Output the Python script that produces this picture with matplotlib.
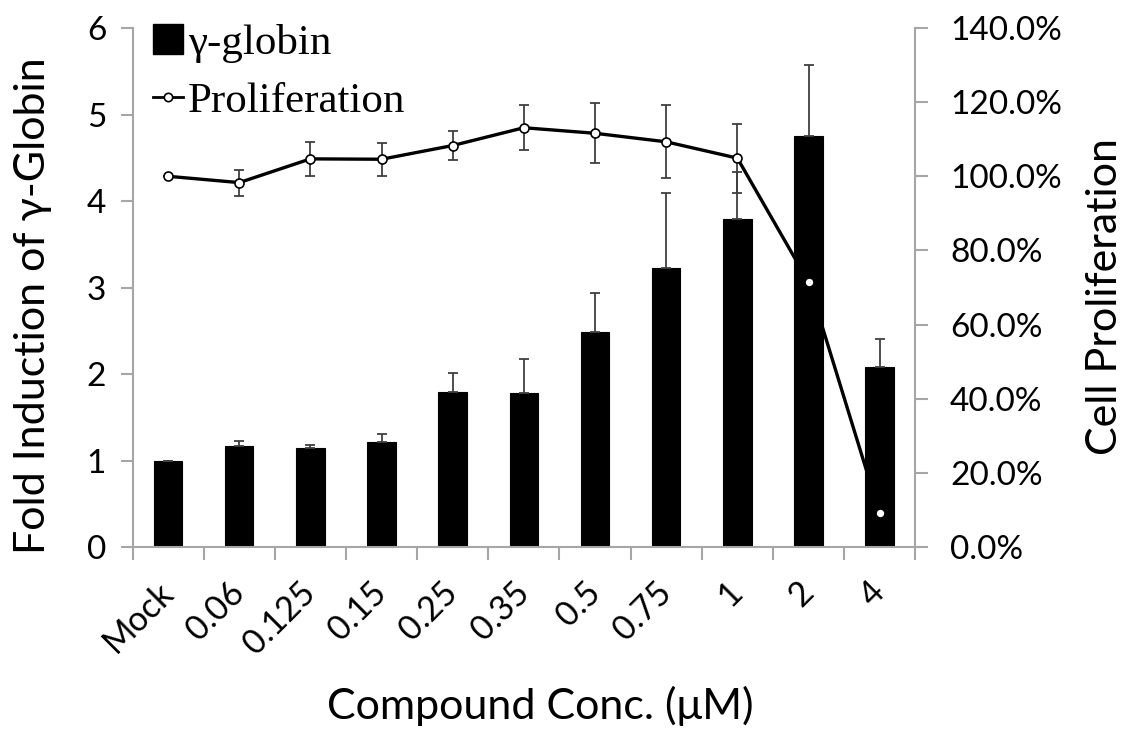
import matplotlib
matplotlib.use("Agg")
import matplotlib.pyplot as plt
from matplotlib.ticker import FixedLocator, FuncFormatter
from matplotlib.lines import Line2D
from matplotlib.patches import Patch
import numpy as np

# Concentrations tested (µM)
categories = ["Mock", "0.06", "0.125", "0.15", "0.25", "0.35", "0.5", "0.75", "1", "2", "4"]

# Fold induction of gamma-globin (left axis) with upper SD
globin = [1.00, 1.17, 1.14, 1.21, 1.79, 1.78, 2.49, 3.23, 3.79, 4.75, 2.08]
globin_err = [0.00, 0.05, 0.04, 0.10, 0.22, 0.39, 0.45, 0.86, 0.54, 0.82, 0.32]

# Cell proliferation in percent of mock (right axis) with SD
prolif = [100.0, 98.3, 104.7, 104.6, 108.3, 113.1, 111.6, 109.3, 104.9, 71.5, 9.1]
prolif_err = [0.0, 3.5, 4.6, 4.4, 4.0, 6.0, 8.1, 9.8, 9.3, 0.0, 0.0]

left_ticks = [0, 1, 2, 3, 4, 5, 6]
right_ticks = [0, 20, 40, 60, 80, 100, 120, 140]

SANS = "Lato"
SERIF = "Liberation Serif"
AXIS_GREY = "#a6a6a6"
ERR_GREY = "#404040"

fig = plt.figure(figsize=(11.23, 7.37), dpi=100)
ax = fig.add_axes([0.118, 0.2578, 0.697, 0.7042])
ax2 = ax.twinx()

# bars sit above the proliferation line
ax.set_zorder(ax2.get_zorder() + 1)
ax.patch.set_visible(False)

x = np.arange(len(categories))

# proliferation line and its error bars (behind the bars)
ax2.errorbar(x, prolif, yerr=prolif_err, color="black", lw=2.4,
             ecolor=ERR_GREY, elinewidth=1.3, capsize=3.5, capthick=1.3, zorder=1)

# gamma-globin bars with upper error bars
ax.bar(x, globin, width=0.4, color="black", edgecolor="black", linewidth=0.8, zorder=2)
ax.errorbar(x, globin, yerr=[np.zeros(len(globin)), globin_err], fmt="none",
            ecolor=ERR_GREY, elinewidth=1.3, capsize=3.5, capthick=1.3, zorder=3)

# proliferation markers drawn on top of the bars
ax.plot(x, prolif, linestyle="none", marker="o", markersize=6.5,
        markerfacecolor="white", markeredgecolor="black", markeredgewidth=1.2,
        transform=ax2.transData, zorder=5)

ax.set_xlim(-0.5, len(categories) - 0.5)
ax.set_ylim(0, 6)
ax2.set_ylim(0, 140)

# spines
for s in ["top", "right"]:
    ax.spines[s].set_visible(False)
for s in ["top", "left", "bottom"]:
    ax2.spines[s].set_visible(False)
for sp in [ax.spines["left"], ax.spines["bottom"], ax2.spines["right"]]:
    sp.set_color(AXIS_GREY)
    sp.set_linewidth(1.5)

# x ticks: marks between categories, labels at the centres
ax.xaxis.set_major_locator(FixedLocator(x))
ax.set_xticklabels(categories, rotation=45, ha="right", va="center",
                   rotation_mode="anchor", fontsize=24.5, family=SANS)
ax.xaxis.set_minor_locator(FixedLocator(np.arange(-0.5, len(categories), 1.0)))
ax.tick_params(axis="x", which="major", length=0, pad=29)
ax.tick_params(axis="x", which="minor", length=9, width=1.5, color=AXIS_GREY, direction="out")

ax.set_yticks(left_ticks)
ax.tick_params(axis="y", length=9, width=1.5, color=AXIS_GREY, labelsize=24, pad=10)
for lab in ax.get_yticklabels():
    lab.set_family(SANS)

ax2.set_yticks(right_ticks)
ax2.yaxis.set_major_formatter(FuncFormatter(lambda v, p: f"{v:.1f}%"))
ax2.tick_params(axis="y", length=9, width=1.5, color=AXIS_GREY, labelsize=24, pad=16)
for lab in ax2.get_yticklabels():
    lab.set_family(SANS)

ax.set_xlabel("Compound Conc. (\u03bcM)", fontsize=31, family=SANS)
ax.xaxis.set_label_coords(0.521, -0.267)
ax.set_ylabel("Fold Induction of \u03b3-Globin", fontsize=31, family=SANS, labelpad=25)
ax.yaxis.label.set_y(0.466)
ax2.set_ylabel("Cell Proliferation", fontsize=31, family=SANS, labelpad=17)
ax2.yaxis.label.set_y(0.482)

handles = [
    Patch(facecolor="black", edgecolor="black"),
    Line2D([], [], color="black", lw=2.0, marker="o", markersize=6,
           markerfacecolor="white", markeredgecolor="black", markeredgewidth=1.2),
]
leg = ax.legend(handles, ["\u03b3-globin", "Proliferation"], loc="upper left",
                bbox_to_anchor=(0.136, 0.968), bbox_transform=fig.transFigure,
                frameon=False, prop={"family": SERIF, "size": 31},
                handlelength=0.7, handleheight=0.7, handletextpad=0.12,
                labelspacing=0.45, borderpad=0.0, borderaxespad=0.0)
leg.set_zorder(10)

fig.savefig("out.png", dpi=100)
